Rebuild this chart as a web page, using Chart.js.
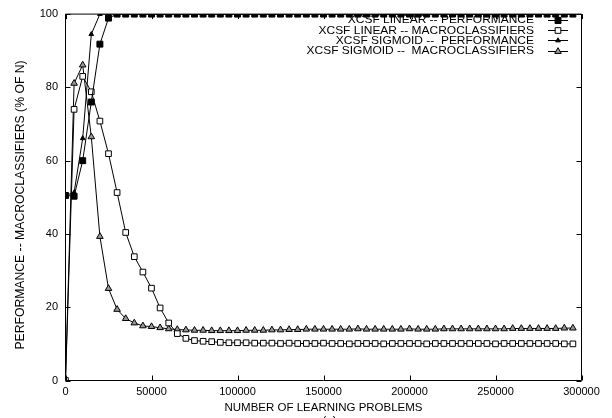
<!DOCTYPE html>
<html>
<head>
<meta charset="utf-8">
<script src="https://cdn.jsdelivr.net/npm/chart.js@4/dist/chart.umd.min.js"></script>
<style>
  html, body { margin: 0; padding: 0; background: #fff; }
  #wrap { width: 612px; height: 418px; }
</style>
</head>
<body>
<div id="wrap"><canvas id="chart" width="612" height="418"></canvas></div>
<script>
// Learning problems at which each run was sampled
const problems = [
  0, 5000, 10000, 15000, 20000, 25000, 30000, 35000, 40000, 45000,
  50000, 55000, 60000, 65000, 70000, 75000, 80000, 85000, 90000, 95000,
  100000, 105000, 110000, 115000, 120000, 125000, 130000, 135000, 140000, 145000,
  150000, 155000, 160000, 165000, 170000, 175000, 180000, 185000, 190000, 195000,
  200000, 205000, 210000, 215000, 220000, 225000, 230000, 235000, 240000, 245000,
  250000, 255000, 260000, 265000, 270000, 275000, 280000, 285000, 290000, 295000
];

// XCSF with linear prediction
const linearPerformance = [
  50.5, 50.3, 60.0, 76.0, 91.8, 98.9, 100, 100, 100, 100,
  100, 100, 100, 100, 100, 100, 100, 100, 100, 100,
  100, 100, 100, 100, 100, 100, 100, 100, 100, 100,
  100, 100, 100, 100, 100, 100, 100, 100, 100, 100,
  100, 100, 100, 100, 100, 100, 100, 100, 100, 100,
  100, 100, 100, 100, 100, 100, 100, 100, 100, 100
];
const linearMacroclassifiers = [
  0, 74.0, 83.0, 78.8, 70.8, 61.9, 51.3, 40.4, 33.8, 29.6,
  25.2, 19.8, 15.7, 12.8, 11.5, 10.9, 10.7, 10.6, 10.4, 10.3,
  10.3, 10.3, 10.2, 10.2, 10.2, 10.1, 10.2, 10.1, 10.1, 10.1,
  10.2, 10.1, 10.1, 10.0, 10.1, 10.1, 10.1, 10.0, 10.1, 10.1,
  10.1, 10.1, 10.0, 10.1, 10.1, 10.1, 10.1, 10.1, 10.1, 10.1,
  10.0, 10.1, 10.1, 10.1, 10.1, 10.1, 10.1, 10.1, 10.0, 10.0
];

// XCSF with sigmoid prediction
const sigmoidPerformance = [
  50.5, 51.3, 66.1, 94.5, 100, 100, 100, 100, 100, 100,
  100, 100, 100, 100, 100, 100, 100, 100, 100, 100,
  100, 100, 100, 100, 100, 100, 100, 100, 100, 100,
  100, 100, 100, 100, 100, 100, 100, 100, 100, 100,
  100, 100, 100, 100, 100, 100, 100, 100, 100, 100,
  100, 100, 100, 100, 100, 100, 100, 100, 100, 100
];
const sigmoidMacroclassifiers = [
  0, 81.1, 86.1, 66.5, 39.3, 25.1, 19.4, 16.9, 15.7, 14.9,
  14.7, 14.4, 14.1, 13.9, 13.8, 13.7, 13.7, 13.6, 13.6, 13.6,
  13.6, 13.7, 13.7, 13.7, 13.8, 13.8, 13.9, 13.9, 14.0, 14.0,
  14.0, 14.0, 14.0, 14.0, 14.1, 14.0, 14.0, 14.0, 14.0, 14.0,
  14.1, 14.0, 14.0, 14.0, 14.1, 14.1, 14.1, 14.1, 14.1, 14.1,
  14.1, 14.1, 14.2, 14.2, 14.2, 14.2, 14.2, 14.2, 14.3, 14.3
];

const seriesLabels = [
  'XCSF LINEAR -- PERFORMANCE',
  'XCSF LINEAR -- MACROCLASSIFIERS',
  'XCSF SIGMOID --  PERFORMANCE',
  'XCSF SIGMOID --  MACROCLASSIFIERS'
];

const xTickValues = [0, 50000, 100000, 150000, 200000, 250000, 300000];
const yTickValues = [0, 20, 40, 60, 80, 100];

const xTitle = 'NUMBER OF LEARNING PROBLEMS';
const yTitle = 'PERFORMANCE -- MACROCLASSIFIERS (% OF N)';
const caption = '(a)';

const FONT = 'Liberation Sans, Arial, Helvetica, sans-serif';

function pairs(values) {
  return values.map((v, i) => ({ x: problems[i], y: v }));
}

function series(label, values, style, radius, fill) {
  return {
    label: label,
    data: pairs(values),
    borderColor: '#000',
    borderWidth: 1,
    backgroundColor: fill,
    pointStyle: style,
    pointRadius: radius,
    pointBackgroundColor: fill,
    pointBorderColor: '#000',
    pointBorderWidth: 1,
    tension: 0,
    fill: false
  };
}

// Frame around the plot with inward tick marks on all four sides
const framePlugin = {
  id: 'frame',
  afterDatasetsDraw(chart) {
    const { ctx, chartArea: a, scales } = chart;
    const tick = 5;
    ctx.save();
    ctx.strokeStyle = '#000';
    ctx.lineWidth = 1;
    ctx.beginPath();
    ctx.rect(a.left, a.top, a.right - a.left, a.bottom - a.top);
    ctx.stroke();
    ctx.beginPath();
    xTickValues.forEach(v => {
      const px = Math.round(scales.x.getPixelForValue(v)) + 0.5;
      ctx.moveTo(px, a.bottom); ctx.lineTo(px, a.bottom - tick);
      ctx.moveTo(px, a.top); ctx.lineTo(px, a.top + tick);
    });
    yTickValues.forEach(v => {
      const py = Math.round(scales.y.getPixelForValue(v)) + 0.5;
      ctx.moveTo(a.left, py); ctx.lineTo(a.left + tick, py);
      ctx.moveTo(a.right, py); ctx.lineTo(a.right - tick, py);
    });
    ctx.stroke();
    ctx.restore();
  }
};

// Vertical axis title, placed a little below the middle of the axis
const yTitlePlugin = {
  id: 'yTitle',
  afterDraw(chart) {
    const { ctx } = chart;
    ctx.save();
    ctx.translate(21, 205);
    ctx.rotate(-Math.PI / 2);
    ctx.font = '12.2px ' + FONT;
    ctx.fillStyle = '#000';
    ctx.textAlign = 'center';
    ctx.textBaseline = 'middle';
    ctx.fillText(yTitle, 0, 0);
    ctx.restore();
  }
};

// Key in the upper right corner: wide label type, then a line sample with its marker
const keyPlugin = {
  id: 'key',
  afterDraw(chart) {
    const { ctx } = chart;
    const textRight = 534;
    const stretch = 1.14;
    const lineStart = 548, lineEnd = 568;
    const top = 20.5, step = 10.2;
    ctx.save();
    chart.data.datasets.forEach((ds, i) => {
      const y = top + i * step;
      ctx.save();
      ctx.translate(textRight, y);
      ctx.scale(stretch, 1);
      ctx.font = '10.5px ' + FONT;
      ctx.textAlign = 'right';
      ctx.textBaseline = 'middle';
      ctx.fillStyle = '#000';
      ctx.fillText(ds.label, 0, 0);
      ctx.restore();
      const ly = Math.round(y - 0.5) + 0.5;
      ctx.strokeStyle = '#000';
      ctx.lineWidth = 1;
      ctx.beginPath();
      ctx.moveTo(lineStart, ly);
      ctx.lineTo(lineEnd, ly);
      ctx.stroke();
      ctx.fillStyle = ds.pointBackgroundColor;
      ctx.strokeStyle = '#000';
      Chart.helpers.drawPoint(ctx, {
        pointStyle: ds.pointStyle,
        radius: ds.pointRadius,
        rotation: 0,
        borderWidth: 1
      }, (lineStart + lineEnd) / 2, ly);
    });
    ctx.restore();
  }
};

// Figure caption under the axis title
const captionPlugin = {
  id: 'caption',
  afterDraw(chart) {
    const { ctx, chartArea: a } = chart;
    ctx.save();
    ctx.font = '11.5px ' + FONT;
    ctx.fillStyle = '#000';
    ctx.textAlign = 'center';
    ctx.textBaseline = 'top';
    ctx.fillText(caption, (a.left + a.right) / 2 + 6, 415);
    ctx.restore();
  }
};

new Chart(document.getElementById('chart'), {
  type: 'line',
  data: {
    datasets: [
      series(seriesLabels[0], linearPerformance, 'rect', 4.2, '#000'),
      series(seriesLabels[1], linearMacroclassifiers, 'rect', 4.0, '#fff'),
      series(seriesLabels[2], sigmoidPerformance, 'triangle', 2.7, '#000'),
      series(seriesLabels[3], sigmoidMacroclassifiers, 'triangle', 3.8, '#999')
    ]
  },
  options: {
    responsive: false,
    animation: false,
    devicePixelRatio: 1,
    layout: { padding: { top: 11.5, right: 30.5, left: 0, bottom: 0 } },
    plugins: {
      legend: { display: false },
      tooltip: { enabled: false }
    },
    elements: { line: { borderCapStyle: 'butt' } },
    scales: {
      x: {
        type: 'linear',
        min: 0,
        max: 300000,
        afterBuildTicks: s => { s.ticks = xTickValues.map(v => ({ value: v })); },
        afterFit: s => { s.height = 37.5; },
        grid: { display: false, drawTicks: false },
        border: { display: false },
        ticks: {
          autoSkip: false,
          maxRotation: 0,
          padding: 4.5,
          color: '#000',
          font: { family: FONT, size: 11 },
          callback: v => String(v)
        },
        title: {
          display: true,
          text: xTitle,
          color: '#000',
          font: { family: FONT, size: 11.5 },
          padding: { top: 0, bottom: 3 }
        }
      },
      y: {
        type: 'linear',
        min: 0,
        max: 100,
        afterBuildTicks: s => { s.ticks = yTickValues.map(v => ({ value: v })); },
        afterFit: s => { s.width = 65.5; },
        grid: { display: false, drawTicks: false },
        border: { display: false },
        ticks: {
          autoSkip: false,
          padding: 7.5,
          color: '#000',
          font: { family: FONT, size: 11 },
          callback: v => String(v)
        },
        title: { display: false }
      }
    }
  },
  plugins: [framePlugin, yTitlePlugin, keyPlugin, captionPlugin]
});
</script>
</body>
</html>
